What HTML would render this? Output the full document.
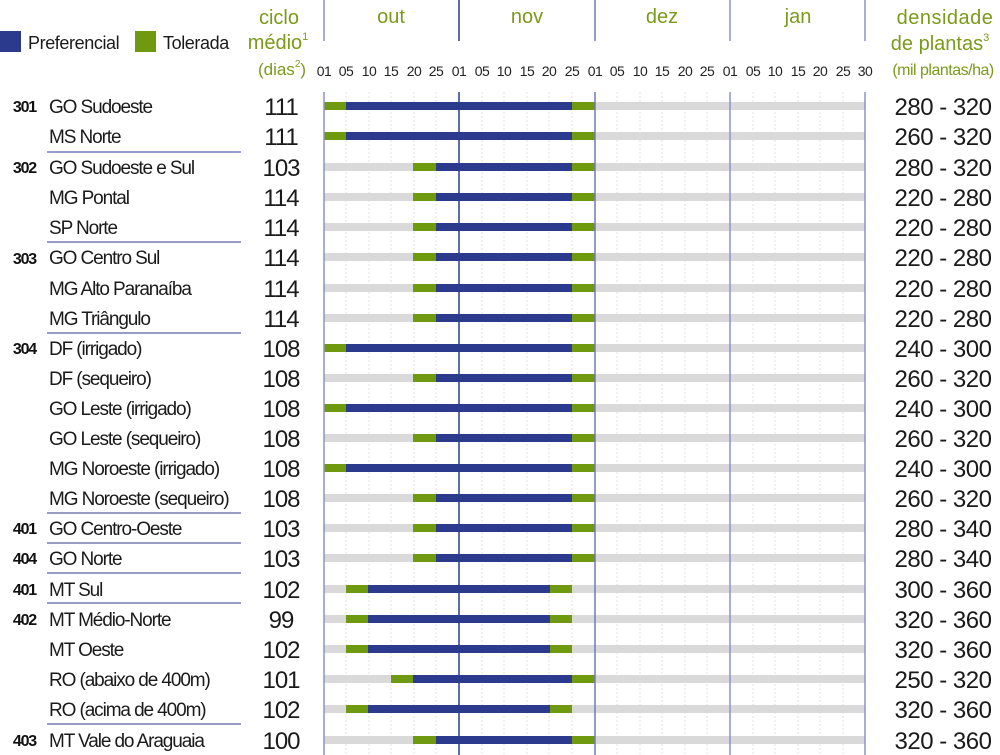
<!DOCTYPE html>
<html><head><meta charset="utf-8"><style>
html,body{margin:0;padding:0;background:#fff;}
svg{display:block;}
.n{font-family:"Liberation Sans Narrow","Liberation Sans",sans-serif;}
.lb{font-size:19px;fill:#1a1a1a;letter-spacing:-1.1px;}
.cd{font-size:16px;font-weight:bold;fill:#111;letter-spacing:-1.2px;}
.cy{font-size:24px;fill:#1a1a1a;letter-spacing:-1px;}
.dn{font-size:24px;fill:#1a1a1a;letter-spacing:-0.5px;}
.hd{fill:#7a9a1a;}
.tk{font-size:14px;fill:#222;letter-spacing:-0.5px;}
</style></head><body>
<svg width="1000" height="755" viewBox="0 0 1000 755" xmlns="http://www.w3.org/2000/svg">
<defs>
<g id="A"><rect x="324" y="-4" width="541" height="8" fill="#d9d9d9"/><rect x="324" y="-4" width="22" height="8" fill="#6f9a0f"/><rect x="346" y="-4" width="226" height="8" fill="#2b3a8c"/><rect x="572" y="-4" width="23" height="8" fill="#6f9a0f"/></g>
<g id="B"><rect x="324" y="-4" width="541" height="8" fill="#d9d9d9"/><rect x="413" y="-4" width="23" height="8" fill="#6f9a0f"/><rect x="436" y="-4" width="136" height="8" fill="#2b3a8c"/><rect x="572" y="-4" width="23" height="8" fill="#6f9a0f"/></g>
<g id="C"><rect x="324" y="-4" width="541" height="8" fill="#d9d9d9"/><rect x="346" y="-4" width="22" height="8" fill="#6f9a0f"/><rect x="368" y="-4" width="182" height="8" fill="#2b3a8c"/><rect x="550" y="-4" width="22" height="8" fill="#6f9a0f"/></g>
<g id="D"><rect x="324" y="-4" width="541" height="8" fill="#d9d9d9"/><rect x="391" y="-4" width="22" height="8" fill="#6f9a0f"/><rect x="413" y="-4" width="159" height="8" fill="#2b3a8c"/><rect x="572" y="-4" width="23" height="8" fill="#6f9a0f"/></g>
</defs>
<rect x="0" y="31" width="21" height="21" fill="#2b3a8c"/>
<text class="n" x="28" y="49" font-size="18" fill="#1a1a1a" letter-spacing="-0.4">Preferencial</text>
<rect x="135" y="31" width="21" height="21" fill="#6f9a0f"/>
<text class="n" x="163" y="49" font-size="18" fill="#1a1a1a" letter-spacing="-0.4">Tolerada</text>
<g class="n hd" text-anchor="middle">
<text x="279" y="24" font-size="20">ciclo</text>
<text x="278" y="49" font-size="20">médio<tspan font-size="11" dy="-9">1</tspan></text>
<text x="282" y="75" font-size="17"><tspan dy="0">(dias</tspan><tspan font-size="10" dy="-8">2</tspan><tspan dy="8">)</tspan></text>
<text x="391" y="23" font-size="20">out</text>
<text x="527" y="23" font-size="20">nov</text>
<text x="662" y="23" font-size="20">dez</text>
<text x="798" y="23" font-size="20">jan</text>
<text x="945" y="24" font-size="20" letter-spacing="0.5">densidade</text>
<text x="940" y="50" font-size="20">de plantas<tspan font-size="11" dy="-9">3</tspan></text>
<text x="943" y="75" font-size="16" letter-spacing="-0.5">(mil plantas/ha)</text>
</g>
<g stroke-width="1.5">
<line x1="324" y1="0" x2="324" y2="41" stroke="#8b93c9"/>
<line x1="459" y1="0" x2="459" y2="41" stroke="#2b3a8c"/>
<line x1="595" y1="0" x2="595" y2="41" stroke="#6f7bc0"/>
<line x1="730" y1="0" x2="730" y2="41" stroke="#8b93c9"/>
<line x1="865" y1="0" x2="865" y2="41" stroke="#8b93c9"/>
</g>
<g class="n tk" text-anchor="middle">
<text x="324" y="76">01</text><text x="346" y="76">05</text><text x="369" y="76">10</text><text x="391" y="76">15</text><text x="414" y="76">20</text><text x="436" y="76">25</text>
<text x="459" y="76">01</text><text x="482" y="76">05</text><text x="504" y="76">10</text><text x="527" y="76">15</text><text x="549" y="76">20</text><text x="572" y="76">25</text>
<text x="595" y="76">01</text><text x="617" y="76">05</text><text x="640" y="76">10</text><text x="662" y="76">15</text><text x="685" y="76">20</text><text x="707" y="76">25</text>
<text x="730" y="76">01</text><text x="753" y="76">05</text><text x="775" y="76">10</text><text x="798" y="76">15</text><text x="820" y="76">20</text><text x="843" y="76">25</text><text x="865" y="76">30</text>
</g>
<g stroke="#e2e2e2" stroke-width="1" stroke-dasharray="2,2">
<line x1="346" y1="92" x2="346" y2="755"/><line x1="369" y1="92" x2="369" y2="755"/><line x1="391" y1="92" x2="391" y2="755"/><line x1="414" y1="92" x2="414" y2="755"/><line x1="436" y1="92" x2="436" y2="755"/>
<line x1="482" y1="92" x2="482" y2="755"/><line x1="504" y1="92" x2="504" y2="755"/><line x1="527" y1="92" x2="527" y2="755"/><line x1="549" y1="92" x2="549" y2="755"/><line x1="572" y1="92" x2="572" y2="755"/>
<line x1="617" y1="92" x2="617" y2="755"/><line x1="640" y1="92" x2="640" y2="755"/><line x1="662" y1="92" x2="662" y2="755"/><line x1="685" y1="92" x2="685" y2="755"/><line x1="707" y1="92" x2="707" y2="755"/>
<line x1="753" y1="92" x2="753" y2="755"/><line x1="775" y1="92" x2="775" y2="755"/><line x1="798" y1="92" x2="798" y2="755"/><line x1="820" y1="92" x2="820" y2="755"/><line x1="843" y1="92" x2="843" y2="755"/>
</g>
<g stroke="#2b3a8c" stroke-width="1">
<line x1="47" y1="152" x2="241" y2="152"/><line x1="47" y1="242" x2="241" y2="242"/><line x1="47" y1="333" x2="241" y2="333"/>
<line x1="47" y1="513" x2="241" y2="513"/><line x1="47" y1="543" x2="241" y2="543"/><line x1="47" y1="573" x2="241" y2="573"/>
<line x1="47" y1="603" x2="241" y2="603"/><line x1="47" y1="724" x2="241" y2="724"/>
</g>
<use href="#A" y="106"/><use href="#A" y="136"/><use href="#B" y="167"/><use href="#B" y="197"/><use href="#B" y="227"/>
<use href="#B" y="257"/><use href="#B" y="288"/><use href="#B" y="318"/><use href="#A" y="348"/><use href="#B" y="378"/>
<use href="#A" y="408"/><use href="#B" y="438"/><use href="#A" y="468"/><use href="#B" y="498"/><use href="#B" y="528"/>
<use href="#B" y="558"/><use href="#C" y="589"/><use href="#C" y="619"/><use href="#C" y="649"/><use href="#D" y="679"/>
<use href="#C" y="709"/><use href="#B" y="740"/>
<g stroke-width="1.5">
<line x1="324" y1="92" x2="324" y2="755" stroke="#8b93c9"/>
<line x1="459" y1="92" x2="459" y2="755" stroke="#2b3a8c"/>
<line x1="595" y1="92" x2="595" y2="755" stroke="#6f7bc0"/>
<line x1="730" y1="92" x2="730" y2="755" stroke="#8b93c9"/>
<line x1="865" y1="92" x2="865" y2="755" stroke="#8b93c9"/>
</g>
<g class="n cd" text-anchor="end">
<text x="36" y="112">301</text><text x="36" y="173">302</text><text x="36" y="264">303</text><text x="36" y="354">304</text>
<text x="36" y="534">401</text><text x="36" y="564">404</text><text x="36" y="595">401</text><text x="36" y="625">402</text><text x="36" y="746">403</text>
</g>
<g class="n lb">
<text x="49" y="113">GO Sudoeste</text><text x="49" y="143">MS Norte</text><text x="49" y="174">GO Sudoeste e Sul</text>
<text x="49" y="204">MG Pontal</text><text x="49" y="234">SP Norte</text><text x="49" y="264">GO Centro Sul</text>
<text x="49" y="295">MG Alto Paranaíba</text><text x="49" y="325">MG Triângulo</text><text x="49" y="355">DF (irrigado)</text>
<text x="49" y="385">DF (sequeiro)</text><text x="49" y="415">GO Leste (irrigado)</text><text x="49" y="445">GO Leste (sequeiro)</text>
<text x="49" y="475">MG Noroeste (irrigado)</text><text x="49" y="505">MG Noroeste (sequeiro)</text><text x="49" y="535">GO Centro-Oeste</text>
<text x="49" y="565">GO Norte</text><text x="49" y="596">MT Sul</text><text x="49" y="626">MT Médio-Norte</text>
<text x="49" y="656">MT Oeste</text><text x="49" y="686">RO (abaixo de 400m)</text><text x="49" y="716">RO (acima de 400m)</text>
<text x="49" y="747">MT Vale do Araguaia</text>
</g>
<g class="n cy" text-anchor="middle">
<text x="281" y="115">111</text><text x="281" y="145">111</text><text x="281" y="176">103</text><text x="281" y="206">114</text><text x="281" y="236">114</text>
<text x="281" y="266">114</text><text x="281" y="297">114</text><text x="281" y="327">114</text><text x="281" y="357">108</text><text x="281" y="387">108</text>
<text x="281" y="417">108</text><text x="281" y="447">108</text><text x="281" y="477">108</text><text x="281" y="507">108</text><text x="281" y="537">103</text>
<text x="281" y="567">103</text><text x="281" y="598">102</text><text x="281" y="628">99</text><text x="281" y="658">102</text><text x="281" y="688">101</text>
<text x="281" y="718">102</text><text x="281" y="749">100</text>
</g>
<g class="n dn" text-anchor="middle">
<text x="943" y="115">280 - 320</text><text x="943" y="145">260 - 320</text><text x="943" y="176">280 - 320</text><text x="943" y="206">220 - 280</text><text x="943" y="236">220 - 280</text>
<text x="943" y="266">220 - 280</text><text x="943" y="297">220 - 280</text><text x="943" y="327">220 - 280</text><text x="943" y="357">240 - 300</text><text x="943" y="387">260 - 320</text>
<text x="943" y="417">240 - 300</text><text x="943" y="447">260 - 320</text><text x="943" y="477">240 - 300</text><text x="943" y="507">260 - 320</text><text x="943" y="537">280 - 340</text>
<text x="943" y="567">280 - 340</text><text x="943" y="598">300 - 360</text><text x="943" y="628">320 - 360</text><text x="943" y="658">320 - 360</text><text x="943" y="688">250 - 320</text>
<text x="943" y="718">320 - 360</text><text x="943" y="749">320 - 360</text>
</g>
</svg>
</body></html>
